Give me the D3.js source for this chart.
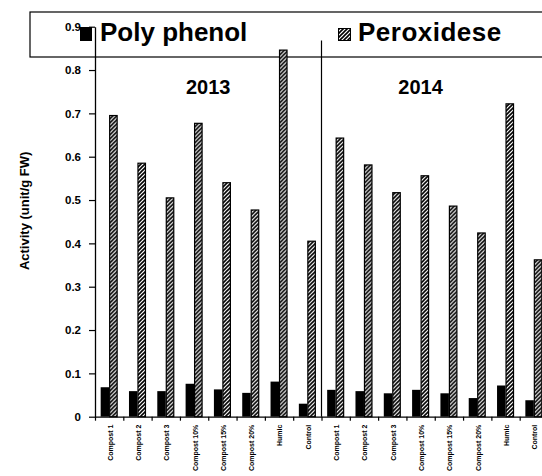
<!DOCTYPE html>
<html>
<head>
<meta charset="utf-8">
<script src="https://cdn.jsdelivr.net/npm/d3@7"></script>
<style>
  html, body { margin: 0; padding: 0; background: #fff; }
  svg { display: block; font-family: "Liberation Sans", Arial, sans-serif; }
</style>
</head>
<body>
<div id="chart"></div>
<script>
// categories (two seasons, 8 treatments each)
const treatments = ["Compost 1", "Compost 2", "Compost 3", "Compost 10%", "Compost 15%", "Compost 20%", "Humic", "Control"];
const years = ["2013", "2014"];
const categories = years.flatMap(y => treatments.map(t => `${y}|${t}`));

// series values
const polyPhenol = [0.068, 0.059, 0.059, 0.076, 0.063, 0.055, 0.081, 0.030,
                    0.062, 0.059, 0.054, 0.062, 0.054, 0.043, 0.072, 0.038];
const peroxidase = [0.695, 0.585, 0.505, 0.677, 0.540, 0.477, 0.846, 0.405,
                    0.643, 0.581, 0.517, 0.556, 0.486, 0.424, 0.722, 0.362];

const yTicks = [0, 0.1, 0.2, 0.3, 0.4, 0.5, 0.6, 0.7, 0.8, 0.9];
const seriesKeys = ["pp", "px"];
const seriesNames = ["Poly phenol", "Peroxidese"];

const W = 542, H = 476;
const plot = { left: 95, right: 548, top: 26.7, bottom: 416.7 };

const svg = d3.select("#chart").append("svg")
  .attr("width", W).attr("height", H);

// hatch pattern
const defs = svg.append("defs");
const pat = defs.append("pattern")
  .attr("id", "hatch")
  .attr("patternUnits", "userSpaceOnUse")
  .attr("width", 4).attr("height", 4);
pat.append("rect").attr("width", 4).attr("height", 4).attr("fill", "#fff");
pat.append("path")
  .attr("d", "M-1,1 l2,-2 M0,4 l4,-4 M3,5 l2,-2")
  .attr("stroke", "#000").attr("stroke-width", 1.6);

// scales
const x0 = d3.scaleBand().domain(categories).range([plot.left, plot.right])
  .paddingInner(0.4).paddingOuter(0.2);
const x1 = d3.scaleBand().domain(seriesKeys).range([0, x0.bandwidth()]);
const xb = d3.scaleLinear().domain([0, categories.length]).range([plot.left, plot.right]);
const y = d3.scaleLinear().domain([0, 0.9]).range([plot.bottom, plot.top]);

// legend frame
svg.append("rect")
  .attr("x", 30).attr("y", 12).attr("width", 540).attr("height", 45)
  .attr("fill", "none").attr("stroke", "#000").attr("stroke-width", 1.2);

// y axis
const yAxis = svg.append("g")
  .attr("transform", `translate(${plot.left},0)`)
  .call(d3.axisLeft(y).tickValues(yTicks).tickSize(6).tickSizeOuter(0)
    .tickFormat(d => d === 0 ? "0" : d3.format(".1f")(d)));
yAxis.select(".domain").attr("stroke", "#000").attr("stroke-width", 1.3);
yAxis.selectAll(".tick line").attr("stroke", "#000").attr("stroke-width", 1.2);
yAxis.selectAll("text")
  .attr("fill", "#000").attr("font-size", 11.5).attr("font-weight", "bold")
  .attr("font-family", "Liberation Sans, Arial, sans-serif")
  .attr("x", -14);

// x axis (ticks at category boundaries)
const xAxis = svg.append("g")
  .attr("transform", `translate(0,${plot.bottom})`)
  .call(d3.axisBottom(xb).tickValues(d3.range(0, categories.length + 1))
    .tickSize(4).tickSizeOuter(0).tickFormat(""));
xAxis.select(".domain").attr("stroke", "#000").attr("stroke-width", 1.3);
xAxis.selectAll(".tick line").attr("stroke", "#000").attr("stroke-width", 1.2);

// category labels (rotated)
svg.append("g").selectAll("text")
  .data(categories)
  .join("text")
  .attr("transform", d => `translate(${x0(d) + x0.bandwidth() / 2 + 1},${plot.bottom + 8}) rotate(-90)`)
  .attr("text-anchor", "end")
  .attr("dy", "0.35em")
  .attr("font-size", 7).attr("font-weight", "bold")
  .text(d => d.split("|")[1]);

// season separator
svg.append("line")
  .attr("x1", xb(8)).attr("x2", xb(8))
  .attr("y1", y(0.868)).attr("y2", plot.bottom)
  .attr("stroke", "#000").attr("stroke-width", 1.2);

// bars
const rows = categories.map((c, i) => ({ c, pp: polyPhenol[i], px: peroxidase[i] }));
const groups = svg.append("g").selectAll("g")
  .data(rows)
  .join("g")
  .attr("transform", d => `translate(${x0(d.c)},0)`);

groups.append("rect")
  .attr("x", x1("pp")).attr("width", x1.bandwidth())
  .attr("y", d => y(d.pp)).attr("height", d => y(0) - y(d.pp))
  .attr("fill", "#000");

groups.append("rect")
  .attr("x", x1("px") + 0.5).attr("width", x1.bandwidth() - 1)
  .attr("y", d => y(d.px)).attr("height", d => y(0) - y(d.px))
  .attr("fill", "url(#hatch)").attr("stroke", "#000").attr("stroke-width", 1.2);

// year labels
svg.append("g").selectAll("text")
  .data(years)
  .join("text")
  .attr("x", (d, i) => xb(i === 0 ? 4 : 11.5))
  .attr("y", y(0.744))
  .attr("text-anchor", "middle")
  .attr("font-size", 20).attr("font-weight", "bold")
  .text(d => d);

// legend
const legend = svg.append("g");
legend.append("rect").attr("x", 80).attr("y", 27).attr("width", 12).attr("height", 14).attr("fill", "#000");
legend.append("text").attr("x", 100).attr("y", 41)
  .attr("font-size", 26).attr("font-weight", "bold").text(seriesNames[0]);
legend.append("rect").attr("x", 338.5).attr("y", 28.5).attr("width", 12).attr("height", 12)
  .attr("fill", "url(#hatch)").attr("stroke", "#000").attr("stroke-width", 1);
legend.append("text").attr("x", 358).attr("y", 41)
  .attr("font-size", 26).attr("font-weight", "bold").attr("letter-spacing", 0.5)
  .text(seriesNames[1]);

// y axis title
svg.append("text")
  .attr("transform", `translate(24,${(y(0.65) + y(0.3)) / 2}) rotate(-90)`)
  .attr("text-anchor", "middle")
  .attr("dy", "0.35em")
  .attr("font-size", 13).attr("font-weight", "bold")
  .text("Activity (unit/g FW)");
</script>
</body>
</html>
